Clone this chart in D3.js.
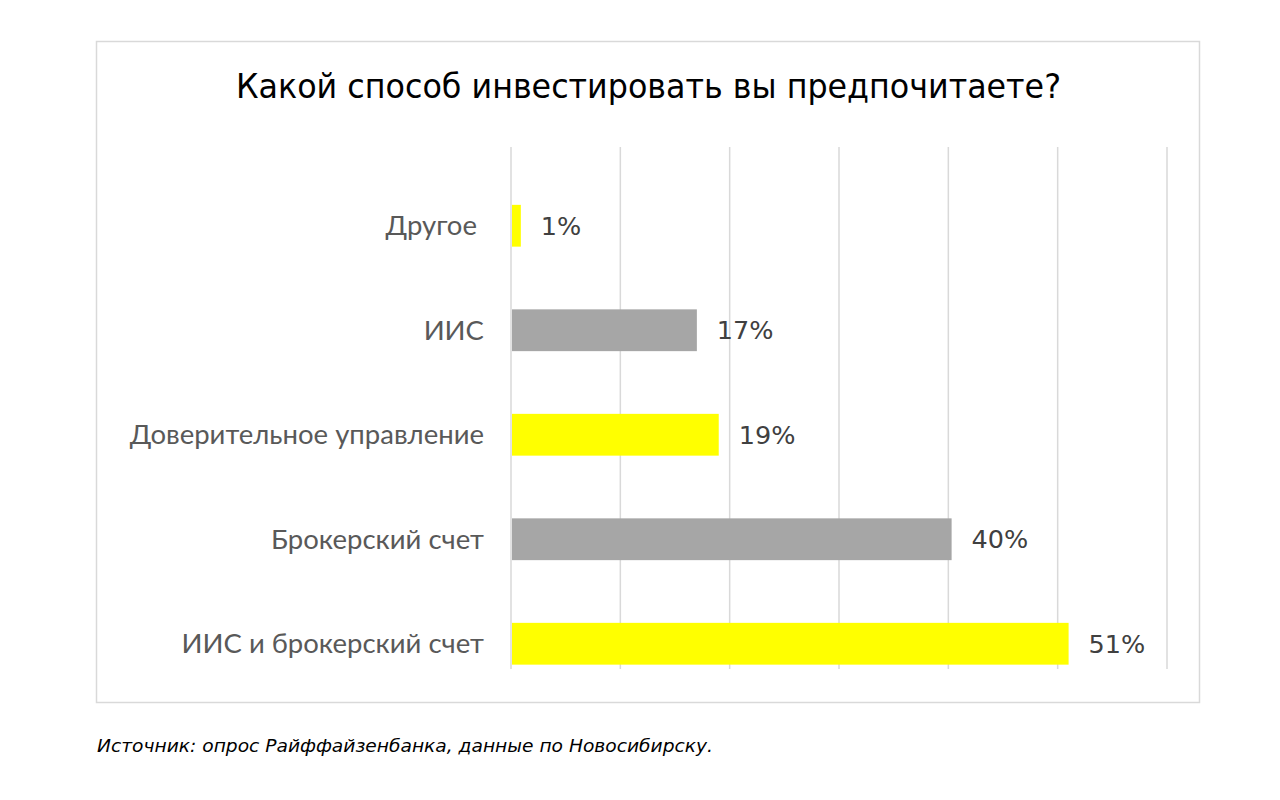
<!DOCTYPE html>
<html><head><meta charset="utf-8">
<script src="https://cdn.jsdelivr.net/npm/d3@7"></script>
<style>body{margin:0;background:#fff}</style>
</head><body>
<svg id="c" width="1280" height="800"></svg>
<script>
const categories = ["Другое ","ИИС","Доверительное управление","Брокерский счет","ИИС и брокерский счет"];
const values = [0.9, 17, 19, 40.3, 51];
const valueLabels = ["1%","17%","19%","40%","51%"];
const colors = ["#ffff00","#a6a6a6","#ffff00","#a6a6a6","#ffff00"];
const ticks = [0,10,20,30,40,50,60];
const title = "Какой способ инвестировать вы предпочитаете?";
const source = "Источник: опрос Райффайзенбанка, данные по Новосибирску.";

const svg = d3.select("#c");
svg.append("rect").attr("x",96.5).attr("y",41.5).attr("width",1103).attr("height",661)
  .attr("fill","#fff").attr("stroke","#d9d9d9").attr("stroke-width",1.5);

svg.append("text").attr("x",648.5).attr("y",98).attr("text-anchor","middle")
  .attr("font-family","'DejaVu Sans', sans-serif").attr("font-size",33).attr("fill","#000")
  .attr("textLength",825).attr("lengthAdjust","spacingAndGlyphs")
  .text(title);

const x = d3.scaleLinear().domain([0,60]).range([511,1167]);
const y = d3.scaleBand().domain(categories).range([173.5,696]).paddingInner(0.6).paddingOuter(0.3);

const g = svg.append("g");
g.selectAll("line.grid").data(ticks).join("line").attr("class","grid")
  .attr("x1",d=>x(d)).attr("x2",d=>x(d)).attr("y1",147).attr("y2",669)
  .attr("stroke","#d9d9d9").attr("stroke-width",1.5);

g.selectAll("rect.bar").data(values).join("rect").attr("class","bar")
  .attr("x",x(0)+1).attr("y",(d,i)=>y(categories[i]))
  .attr("width",d=>x(d)-x(0)-1).attr("height",y.bandwidth())
  .attr("fill",(d,i)=>colors[i]);

g.selectAll("text.cat").data(categories).join("text").attr("class","cat")
  .attr("x",484).attr("y",d=>y(d)+y.bandwidth()/2).attr("dy","0.35em")
  .attr("text-anchor","end").attr("font-family","Lato, sans-serif").attr("font-size",27.5)
  .style("white-space","pre")
  .attr("fill","#595959").text(d=>d);

g.selectAll("text.val").data(values).join("text").attr("class","val")
  .attr("x",d=>x(d)+20).attr("y",(d,i)=>y(categories[i])+y.bandwidth()/2).attr("dy","0.36em")
  .attr("font-family","'DejaVu Sans', sans-serif").attr("font-size",25.5)
  .attr("fill","#404040").text((d,i)=>valueLabels[i]);

svg.append("text").attr("x",97).attr("y",752)
  .attr("font-family","'DejaVu Sans', sans-serif").attr("font-style","italic").attr("font-size",18)
  .attr("textLength",616).attr("lengthAdjust","spacingAndGlyphs")
  .attr("fill","#000").text(source);
</script>
</body></html>
